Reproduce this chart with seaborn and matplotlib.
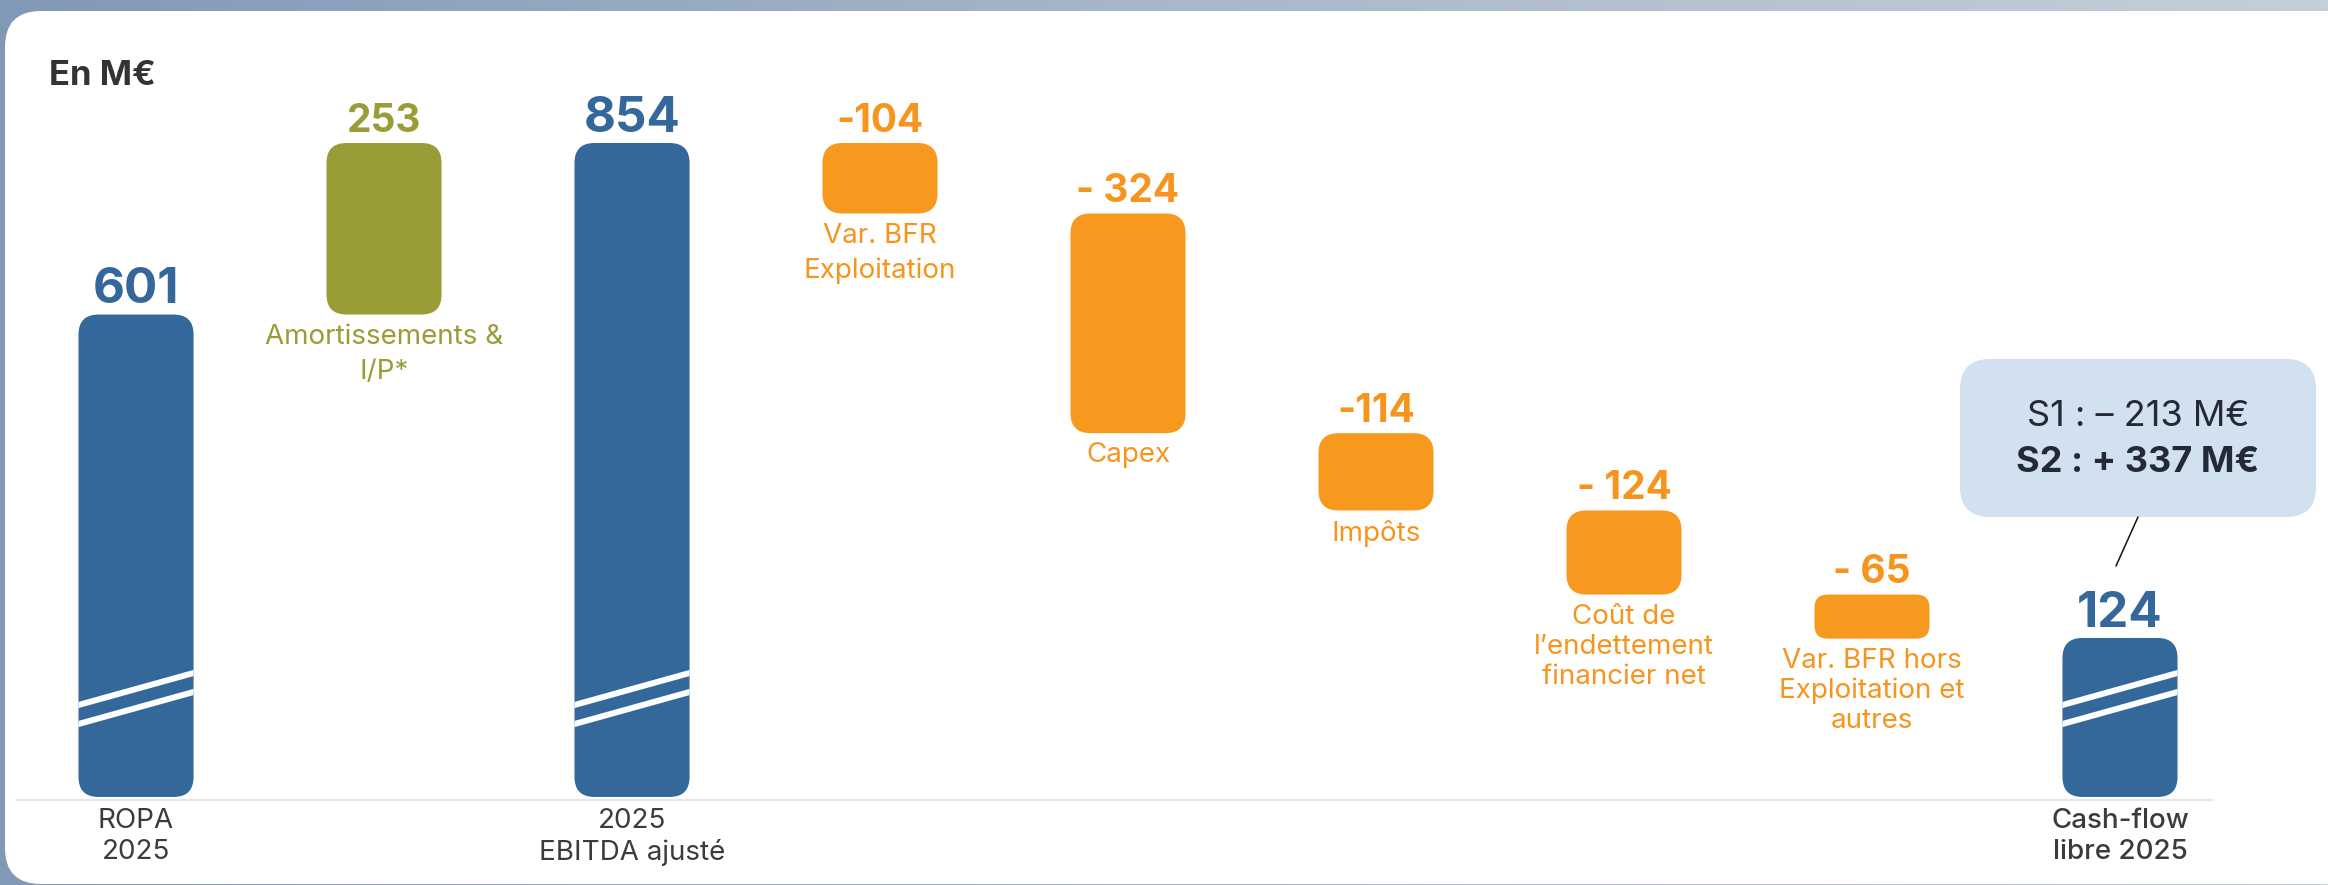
import numpy as np
import pandas as pd
import matplotlib
matplotlib.use("Agg")
import matplotlib.pyplot as plt
import seaborn as sns
from matplotlib.patches import FancyBboxPatch
from matplotlib.transforms import IdentityTransform
from matplotlib.lines import Line2D
from matplotlib.colors import LinearSegmentedColormap

# ---------------- data ----------------
categories = [
    "ROPA\n2025",
    "Amortissements &\nI/P*",
    "2025\nEBITDA ajusté",
    "Var. BFR\nExploitation",
    "Capex",
    "Impôts",
    "Coût de\nl’endettement\nfinancier net",
    "Var. BFR hors\nExploitation et\nautres",
    "Cash-flow\nlibre 2025",
]
values = [601, 253, 854, -104, -324, -114, -124, -65, 124]
kinds = ["total", "increase", "total", "decrease", "decrease",
         "decrease", "decrease", "decrease", "total"]
value_labels = ["601", "253", "854", "-104", "- 324", "-114", "- 124", "- 65", "124"]
callout_lines = ["S1 : – 213 M€", "S2 : + 337 M€"]
unit_label = "En M€"

# ---------------- style ----------------
BLUE = "#34689B"
OLIVE = "#9A9D37"
ORANGE = "#F7991F"
ORANGE_TXT = "#F7941E"
GREY_TXT = "#3B3B3B"
kind_color = {"total": BLUE, "increase": OLIVE, "decrease": ORANGE}
kind_txt = {"total": BLUE, "increase": OLIVE, "decrease": ORANGE_TXT}

W, H, DPI = 2328, 885, 100
sns.set_theme(style="white")
plt.rcParams["font.family"] = ["Inter", "DejaVu Sans"]

fig = plt.figure(figsize=(W / DPI, H / DPI), dpi=DPI)

# background frame gradient
bg = fig.add_axes([0, 0, 1, 1], zorder=-3)
cmap = LinearSegmentedColormap.from_list("frame", ["#8198b6", "#a8b7c9", "#c6ced8"])
bg.imshow(np.linspace(0, 1, 256)[None, :], aspect="auto", cmap=cmap, extent=[0, 1, 0, 1])
bg.set_xlim(0, 1); bg.set_ylim(0, 1)
bg.axis("off")

panel = FancyBboxPatch((5, H - 884), 2400, 884 - 11,
                       boxstyle="round,pad=0,rounding_size=36",
                       transform=IdentityTransform(), fc="white", ec="none", zorder=-2)
fig.add_artist(panel)

# main axes geometry (pixels)
AX_L, AX_R, AX_T, AX_B = 17, 2212, 12, 800
ax = fig.add_axes([AX_L / W, (H - AX_B) / H, (AX_R - AX_L) / W, (AX_B - AX_T) / H])
ax.patch.set_alpha(0)
X0, X1 = -0.48, 8.371
Y0, Y1 = -115.0, 1047.2
FLOOR = -110.5  # broken-axis floor for total bars

# waterfall geometry
bottoms, tops = [], []
running = 0
for v, k in zip(values, kinds):
    if k == "total":
        bottoms.append(FLOOR); tops.append(v); running = v
    else:
        b, t = sorted([running, running + v])
        bottoms.append(b); tops.append(t); running += v
bottoms = np.array(bottoms, float); tops = np.array(tops, float)

df = pd.DataFrame({"cat": categories, "span": tops - bottoms})
sns.barplot(data=df, x="cat", y="span", order=categories, width=0.464,
            color=BLUE, errorbar=None, ax=ax)

ax.set_xlim(X0, X1); ax.set_ylim(Y0, Y1)
ax.set_xticks([]); ax.set_yticks([])
ax.set_xlabel(""); ax.set_ylabel("")
for s in ["top", "left", "right"]:
    ax.spines[s].set_visible(False)
ax.spines["bottom"].set_color("#E6E7EC")
ax.spines["bottom"].set_linewidth(1.6)

sx = (AX_R - AX_L) / (X1 - X0)
sy = (AX_B - AX_T) / (Y1 - Y0)

def px2y(py):
    return Y1 - (py - AX_T) / sy

bars = list(ax.patches)
for i, p in enumerate(bars):
    x, w = p.get_x(), p.get_width()
    b, t = bottoms[i], tops[i]
    k = kinds[i]
    h_px = (t - b) * sy
    r_px = min(20, h_px * 0.3)
    fb = FancyBboxPatch((x, b), w, t - b,
                        boxstyle=f"round,pad=0,rounding_size={r_px / sx}",
                        mutation_aspect=sx / sy, fc=kind_color[k], ec="none", zorder=2)
    ax.add_patch(fb)
    p.set_visible(False)
    cx = x + w / 2

    if k == "total":
        for (lp, rp) in [(705, 673), (724, 692)]:
            ln = Line2D([x - 0.05, x + w + 0.05],
                        [px2y(lp + 0.05 * sx * (32 / 115)), px2y(rp - 0.05 * sx * (32 / 115))],
                        color="white", lw=4.3, solid_capstyle="butt", zorder=3)
            ax.add_line(ln)
            ln.set_clip_path(fb)

    big = k == "total"
    ax.annotate(value_labels[i], xy=(cx, t), xytext=(0, 8), textcoords="offset points",
                ha="center", va="baseline", fontsize=35.5 if big else 28,
                fontweight="bold", color=kind_txt[k], zorder=4)

    if k == "total":
        ax.annotate(categories[i], xy=(cx, Y0), xytext=(0, -5.5), textcoords="offset points",
                    ha="center", va="top", multialignment="center", fontsize=20,
                    color=GREY_TXT, fontweight="medium" if i == len(categories) - 1 else "normal",
                    linespacing=1.25, annotation_clip=False)
    else:
        ls = 1.45 if i in (1, 3) else 1.2
        ax.annotate(categories[i], xy=(cx, b), xytext=(0, -6.5), textcoords="offset points",
                    ha="center", va="top", multialignment="center", fontsize=20,
                    color=kind_txt[k], linespacing=ls)

# unit label
fig.text(49 / W, 1 - 85 / H, unit_label, ha="left", va="baseline", fontsize=25,
         fontweight="bold", color="#333333")

# callout
box = FancyBboxPatch((1960, H - 517), 356, 158, boxstyle="round,pad=0,rounding_size=30",
                     transform=IdentityTransform(), fc="#D2E1EF", ec="none", zorder=5)
fig.add_artist(box)
fig.text(2138 / W, 1 - 416 / H, callout_lines[0], ha="center", va="center", fontsize=26,
         color="#232A36", zorder=6)
fig.text(2138 / W, 1 - 462 / H, callout_lines[1], ha="center", va="center", fontsize=26,
         fontweight="bold", color="#232A36", zorder=6)
fig.add_artist(Line2D([2138, 2116], [H - 517, H - 566], transform=IdentityTransform(),
                      color="#111111", lw=1.1, zorder=5))

fig.savefig("out.png", dpi=DPI)
